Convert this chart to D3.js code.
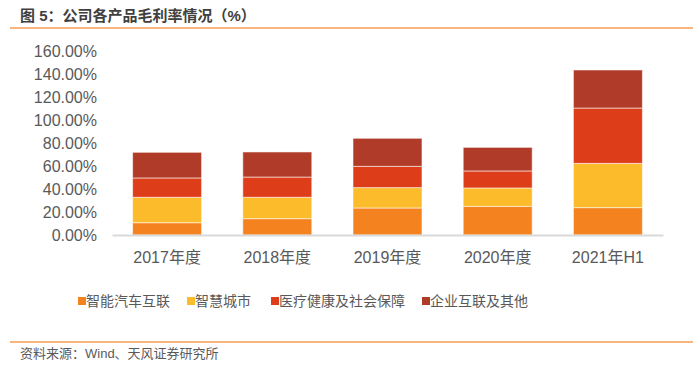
<!DOCTYPE html>
<html><head><meta charset="utf-8">
<script src="https://cdn.jsdelivr.net/npm/d3@7"></script>
<style>
html,body{margin:0;padding:0;background:#fff;}
svg{display:block;}
text{font-family:"Liberation Sans","Noto Sans CJK SC",sans-serif;}
</style></head>
<body>
<svg id="c" width="700" height="365"></svg>
<script>
const categories = ["2017年度","2018年度","2019年度","2020年度","2021年H1"];
const seriesNames = ["智能汽车互联","智慧城市","医疗健康及社会保障","企业互联及其他"];
const smartCar   = [10.7, 14.2, 23.5, 24.9, 23.8];
const smartCity  = [22.1, 18.6, 17.7, 16.0, 38.5];
const medical    = [16.8, 17.6, 18.5, 14.8, 48.1];
const enterprise = [22.3, 21.8, 24.4, 20.5, 33.1];
const yTicks = [0,20,40,60,80,100,120,140,160];
const colors = ["#F4821F","#FBBB2A","#DE3D19","#B13B29"];
const title = "图 5：公司各产品毛利率情况（%）";
const source = "资料来源：Wind、天风证券研究所";

const svg = d3.select("#c");
const seriesVals = [smartCar, smartCity, medical, enterprise];
const rows = categories.map((c,i)=>{
  const r = {cat:c};
  seriesNames.forEach((s,j)=>r[s]=seriesVals[j][i]);
  return r;
});
const stacked = d3.stack().keys(seriesNames)(rows);

const x = d3.scaleBand().domain(categories).range([112,663]).paddingInner(0.374).paddingOuter(0.187);
const y = d3.scaleLinear().domain([0,160]).range([235,51]);

// title
svg.append("text").attr("x",20).attr("y",21).attr("font-size",15).attr("font-weight","bold")
  .attr("fill","#404040").attr("font-family","'Noto Sans CJK SC',sans-serif").text(title);
svg.append("line").attr("x1",10).attr("x2",693).attr("y1",28).attr("y2",28)
  .attr("stroke","#F8B67D").attr("stroke-width",2);

// bars
svg.append("g").selectAll("g").data(stacked).join("g")
  .attr("fill",(d,i)=>colors[i])
  .selectAll("rect").data(d=>d).join("rect")
  .attr("x",d=>x(d.data.cat)).attr("width",x.bandwidth())
  .attr("y",d=>y(d[1])).attr("height",d=>y(d[0])-y(d[1]))
  .attr("stroke","rgba(255,255,255,0.55)").attr("stroke-width",1);

// y axis
const ya = svg.append("g").attr("transform","translate(97,0)")
  .call(d3.axisLeft(y).tickValues(yTicks).tickSize(0).tickPadding(0).tickFormat(d=>d.toFixed(2)+"%"));
ya.select(".domain").remove();
ya.selectAll("text").attr("font-size",16).attr("fill","#595959")
  .attr("font-family","'Liberation Sans',sans-serif");

// x axis
const xa = svg.append("g").attr("transform","translate(0,235)")
  .call(d3.axisBottom(x).tickSize(0).tickPadding(17));
xa.select(".domain").attr("stroke","#D9D9D9").attr("stroke-width",2);
xa.selectAll("text").attr("font-size",16).attr("fill","#595959");

// legend
const legX = [78, 187, 271, 422];
const lg = svg.append("g").selectAll("g").data(seriesNames).join("g")
  .attr("transform",(d,i)=>`translate(${legX[i]},301)`);
lg.append("rect").attr("x",0).attr("y",-4).attr("width",8).attr("height",8).attr("fill",(d,i)=>colors[i]);
lg.append("text").attr("x",8).attr("y",0).attr("dy","0.36em").attr("font-size",14)
  .attr("fill","#595959").attr("font-family","'Noto Sans CJK SC',sans-serif").text(d=>d);

// footer
svg.append("line").attr("x1",10).attr("x2",693).attr("y1",342).attr("y2",342)
  .attr("stroke","#F8B67D").attr("stroke-width",2);
svg.append("text").attr("x",20).attr("y",358).attr("font-size",13).attr("fill","#595959")
  .attr("font-family","'Noto Sans CJK SC',sans-serif").text(source);
</script>
</body></html>
